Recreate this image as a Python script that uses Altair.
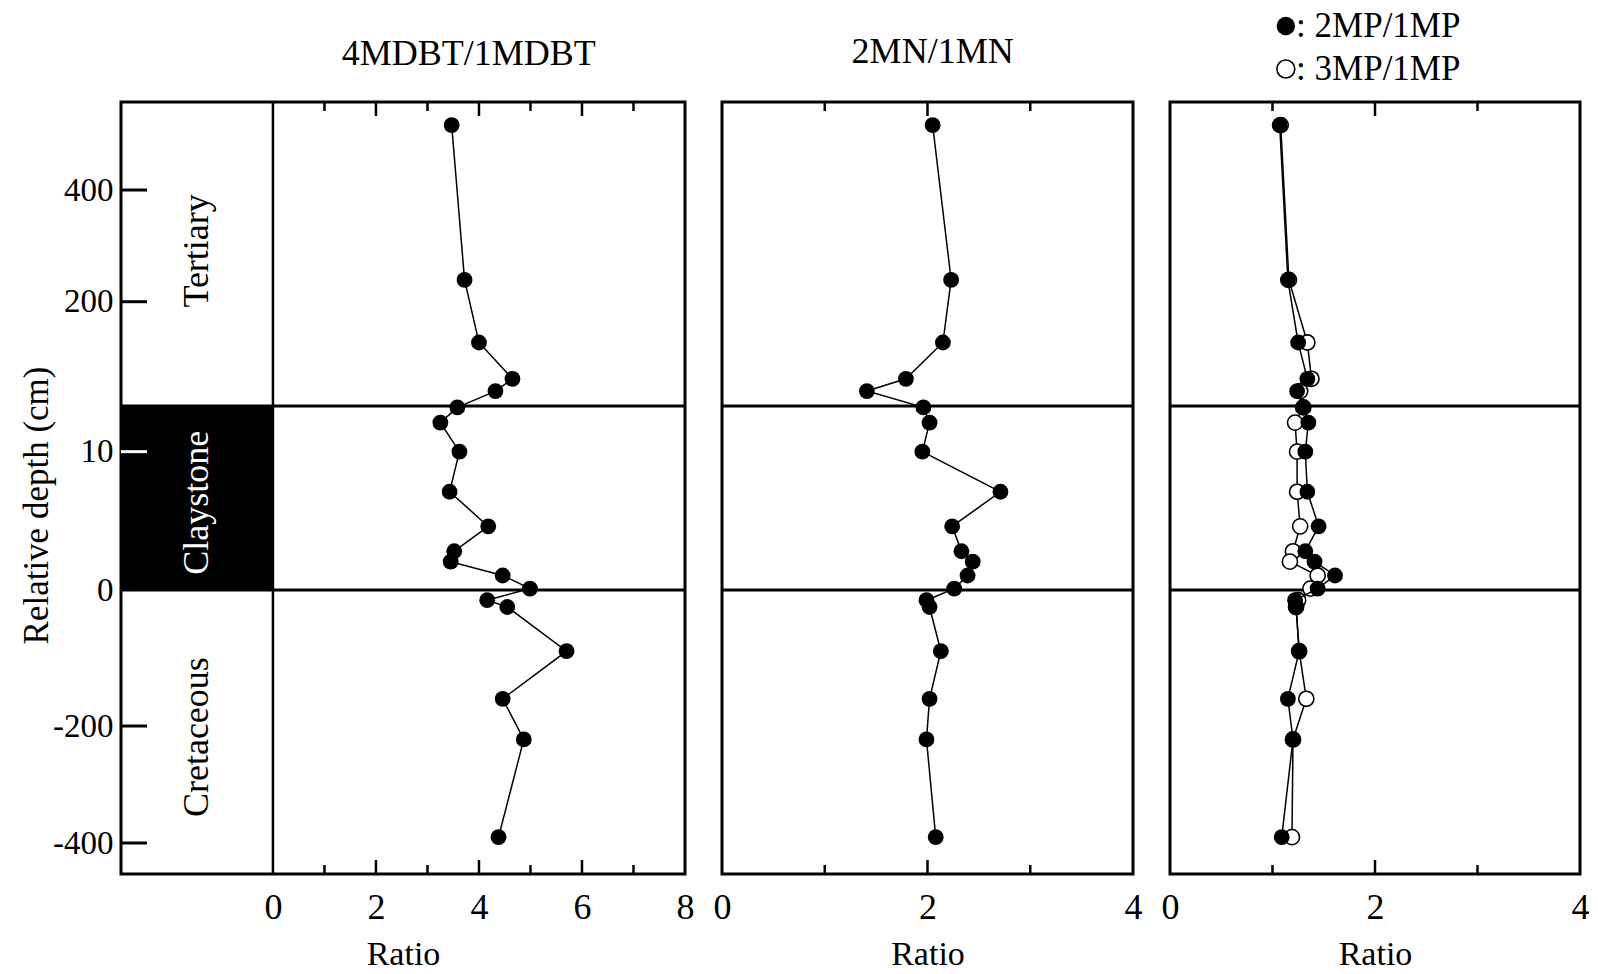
import altair as alt
import pandas as pd

# ---------------- data ----------------
depth_cm = [516, 239, 127, 62, 40, 13.2, 12.1, 10.0, 7.1, 4.6, 2.8, 2.05, 1.05, 0.1,
            -15, -25, -90, -160, -223, -390]
mdbt_ratio = [3.47, 3.72, 4.00, 4.65, 4.32, 3.58, 3.25, 3.62, 3.43, 4.18, 3.52, 3.45,
              4.46, 4.99, 4.16, 4.55, 5.70, 4.46, 4.87, 4.38]
mn_ratio = [2.05, 2.23, 2.15, 1.79, 1.41, 1.96, 2.02, 1.95, 2.71, 2.24, 2.33, 2.44,
            2.39, 2.26, 1.99, 2.02, 2.13, 2.02, 1.99, 2.08]
mp2_ratio = [1.07, 1.15, 1.25, 1.34, 1.24, 1.30, 1.35, 1.32, 1.34, 1.45, 1.32, 1.41,
             1.61, 1.44, 1.22, 1.23, 1.26, 1.15, 1.20, 1.09]
mp3_ratio = [1.08, 1.16, 1.34, 1.38, 1.27, 1.30, 1.22, 1.24, 1.24, 1.27, 1.20, 1.17,
             1.44, 1.37, 1.25, 1.23, 1.26, 1.33, 1.20, 1.19]

y_tick_values = [400, 200, 10, 0, -200, -400]
y_inner_ticks = [400, 200, 10, -200, -400]
y_inner_tick_colors = ["black", "black", "white", "black", "black"]
claystone_base = 0
claystone_top = 13.3
strat_labels = ["Tertiary", "Claystone", "Cretaceous"]
strat_label_depth = [291, 6.3, -219]
strat_label_colors = ["black", "white", "black"]
legend_labels = [": 2MP/1MP", ": 3MP/1MP"]

FONT = "Liberation Serif"
H = 772
W1, W2, W3 = 564, 411, 410
STRIP_LEFT = -2.95
STRIP_X = -1.48

# piecewise depth scale: Tertiary / Claystone / Cretaceous sections
y_scale = alt.Scale(domain=[-455, -400, -200, 0, claystone_top, 400, 557.5],
                    range=[H, 741, 624, 488, 304, 88, 0], zero=False, nice=False)

y_axis = alt.Axis(values=y_tick_values, tickSize=0, domain=False, grid=False,
                  labelFontSize=33, labelPadding=8, labelFont=FONT, labelColor="black",
                  labelExpr="'' + datum.value",
                  title="Relative depth (cm)", titleFont=FONT, titleFontSize=35,
                  titleFontWeight="normal", titleColor="black",
                  titleX=-85, titleY=403, titleAngle=270, titleBaseline="middle",
                  titleAlign="center")


def x_axis(vals):
    return alt.Axis(values=vals, tickSize=0, domain=False, grid=False,
                    labelFontSize=36, labelPadding=16, labelFont=FONT, labelColor="black",
                    labelFlush=False, format="d",
                    title="Ratio", titleFont=FONT, titleFontSize=34,
                    titleFontWeight="normal", titleColor="black", titlePadding=12)


def common_layers(xs, xa, yax, minor, major):
    layers = []
    bnd = pd.DataFrame({"depth": [claystone_base, claystone_top]})
    layers.append(alt.Chart(bnd).mark_rule(color="black", strokeWidth=3).encode(
        y=alt.Y("depth:Q", scale=y_scale, axis=yax)))
    for vals, ln in ((minor, 9), (major, 14)):
        df = pd.DataFrame({"ratio": vals})
        layers.append(alt.Chart(df).mark_rule(color="black", strokeWidth=2.5).encode(
            x=alt.X("ratio:Q", scale=xs, axis=xa), y=alt.value(0), y2=alt.value(ln)))
        layers.append(alt.Chart(df).mark_rule(color="black", strokeWidth=2.5).encode(
            x=alt.X("ratio:Q", scale=xs, axis=xa), y=alt.value(H), y2=alt.value(H - ln)))
    return layers


def point_style(filled, size=250):
    if filled:
        return dict(shape="circle", size=size, filled=True, color="black", opacity=1)
    return dict(shape="circle", size=size - 20, filled=True, fill="white",
                stroke="black", strokeWidth=1.6, opacity=1)


def series_layers(ratios, xs, xa, yax, filled=True):
    df = pd.DataFrame({"depth": depth_cm, "ratio": ratios})
    line = alt.Chart(df).mark_line(color="black", strokeWidth=1.5).encode(
        x=alt.X("ratio:Q", scale=xs, axis=xa),
        y=alt.Y("depth:Q", scale=y_scale, axis=yax),
        order="depth:Q")
    pts = alt.Chart(df).mark_point(**point_style(filled)).encode(
        x=alt.X("ratio:Q", scale=xs, axis=xa),
        y=alt.Y("depth:Q", scale=y_scale, axis=yax))
    return [line, pts]


def title_layer(xpos, text, xs, xa, yoff, size=36, align="center"):
    df = pd.DataFrame({"ratio": [xpos], "txt": [text]})
    return alt.Chart(df).mark_text(font=FONT, fontSize=size, color="black",
                                   align=align, baseline="middle").encode(
        x=alt.X("ratio:Q", scale=xs, axis=xa), y=alt.value(yoff), text="txt:N")


def legend_symbol(xpos, filled, xs, xa, yoff):
    df = pd.DataFrame({"ratio": [xpos]})
    return alt.Chart(df).mark_point(**point_style(filled, size=340)).encode(
        x=alt.X("ratio:Q", scale=xs, axis=xa), y=alt.value(yoff))


# ---------------- panel 1 ----------------
xs1 = alt.Scale(domain=[STRIP_LEFT, 8], nice=False, zero=False)
xa1 = x_axis([0, 2, 4, 6, 8])

clay = pd.DataFrame({"x0": [STRIP_LEFT], "x1": [0], "d0": [claystone_base], "d1": [claystone_top]})
clay_rect = alt.Chart(clay).mark_rect(color="black").encode(
    x=alt.X("x0:Q", scale=xs1, axis=xa1), x2="x1:Q",
    y=alt.Y("d0:Q", scale=y_scale, axis=y_axis), y2="d1:Q")

strat = pd.DataFrame({"x": [STRIP_X] * 3, "depth": strat_label_depth,
                      "label": strat_labels, "col": strat_label_colors})
strat_text = alt.Chart(strat).mark_text(font=FONT, fontSize=36, angle=270,
                                        align="center", baseline="middle").encode(
    x=alt.X("x:Q", scale=xs1, axis=xa1),
    y=alt.Y("depth:Q", scale=y_scale, axis=y_axis),
    text="label:N", color=alt.Color("col:N", scale=None))

zero_line = alt.Chart(pd.DataFrame({"ratio": [0]})).mark_rule(color="black", strokeWidth=2.5).encode(
    x=alt.X("ratio:Q", scale=xs1, axis=xa1))

yt = pd.DataFrame({"depth": y_inner_ticks, "col": y_inner_tick_colors})
y_ticks = alt.Chart(yt).mark_rule(strokeWidth=3).encode(
    y=alt.Y("depth:Q", scale=y_scale, axis=y_axis), x=alt.value(0), x2=alt.value(26),
    color=alt.Color("col:N", scale=None))

p1 = alt.layer(
    clay_rect, strat_text, zero_line, y_ticks,
    *common_layers(xs1, xa1, y_axis, [1, 3, 5, 7], [2, 4, 6]),
    *series_layers(mdbt_ratio, xs1, xa1, y_axis),
    title_layer(3.8, "4MDBT/1MDBT", xs1, xa1, -48),
).properties(width=W1, height=H)

# ---------------- panel 2 ----------------
xs2 = alt.Scale(domain=[0, 4], nice=False, zero=False)
xa2 = x_axis([0, 2, 4])
p2 = alt.layer(
    *common_layers(xs2, xa2, None, [1, 3], [2]),
    *series_layers(mn_ratio, xs2, xa2, None),
    title_layer(2.05, "2MN/1MN", xs2, xa2, -50),
).properties(width=W2, height=H)

# ---------------- panel 3 ----------------
xs3 = alt.Scale(domain=[0, 4], nice=False, zero=False)
xa3 = x_axis([0, 2, 4])
p3 = alt.layer(
    *common_layers(xs3, xa3, None, [1, 3], [2]),
    *series_layers(mp3_ratio, xs3, xa3, None, filled=False),
    *series_layers(mp2_ratio, xs3, xa3, None, filled=True),
    legend_symbol(1.13, True, xs3, xa3, -76),
    legend_symbol(1.13, False, xs3, xa3, -33),
    title_layer(1.23, legend_labels[0], xs3, xa3, -76, size=35, align="left"),
    title_layer(1.23, legend_labels[1], xs3, xa3, -33, size=35, align="left"),
).properties(width=W3, height=H)

chart = alt.hconcat(p1, p2, p3, spacing=37, bounds="flush").properties(
    padding={"left": 17, "top": 7, "right": 5, "bottom": 5},
    background="white",
).configure_view(stroke="black", strokeWidth=3)

chart.save("out.html", embed_options={"renderer": "svg", "actions": False})
